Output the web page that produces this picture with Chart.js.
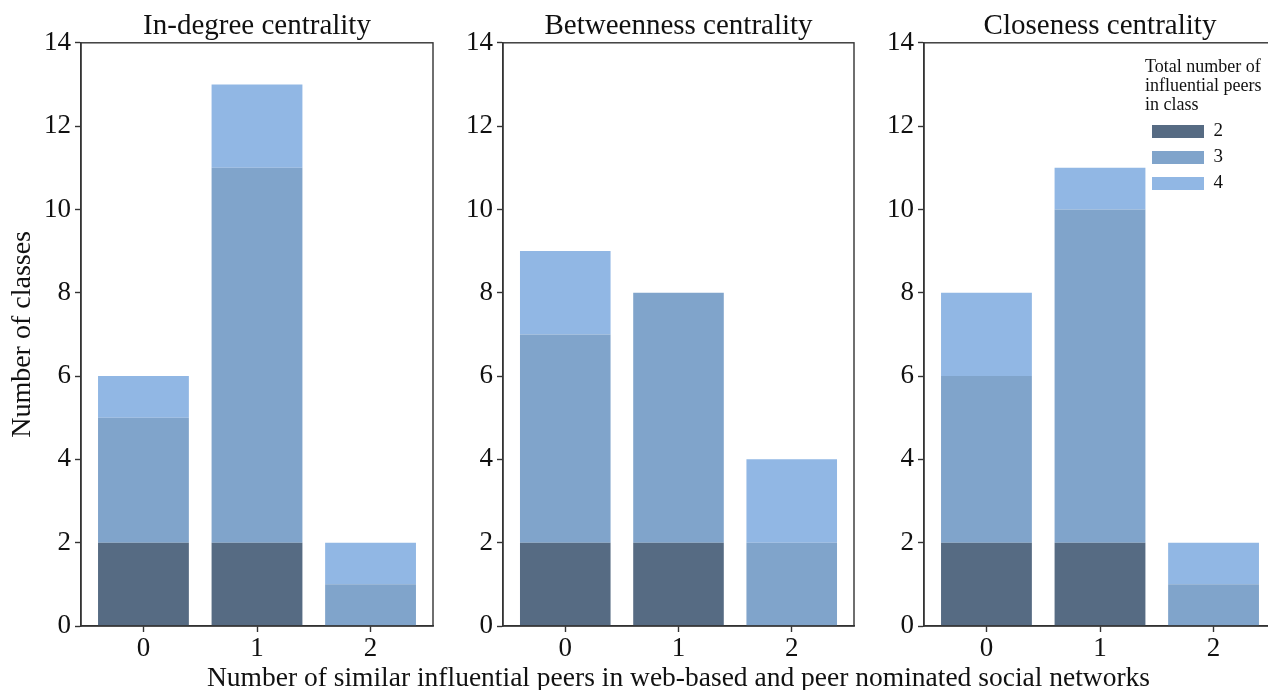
<!DOCTYPE html>
<html><head><meta charset="utf-8">
<script src="https://cdn.jsdelivr.net/npm/chart.js@4.4.0/dist/chart.umd.min.js"></script>
<style>
html,body{margin:0;padding:0;background:#fff;overflow:hidden;width:1268px;height:690px;}
#wrap{position:relative;width:1300px;height:690px;}
canvas{position:absolute;left:0;top:0;}
</style></head><body>
<div id="wrap">
<canvas id="c1" width="1300" height="690"></canvas>
<canvas id="c2" width="1300" height="690"></canvas>
<canvas id="c3" width="1300" height="690"></canvas>
</div>
<script>
const categories = [0, 1, 2];
const seriesLabels = ['2', '3', '4'];
const panelTitles = ['In-degree centrality', 'Betweenness centrality', 'Closeness centrality'];
// stacked segments per panel (series "2", "3", "4")
const inDegree2 = [2, 2, 0];
const inDegree3 = [3, 9, 1];
const inDegree4 = [1, 2, 1];
const betweenness2 = [2, 2, 0];
const betweenness3 = [5, 6, 2];
const betweenness4 = [2, 0, 2];
const closeness2 = [2, 2, 0];
const closeness3 = [4, 8, 1];
const closeness4 = [2, 1, 1];
const yTicks = [0, 2, 4, 6, 8, 10, 12, 14];
const yLabel = 'Number of classes';
const xLabel = 'Number of similar influential peers in web-based and peer nominated social networks';
const legendTitle = ['Total number of', 'influential peers', 'in class'];

const colors = ['#566b83', '#80a4cb', '#91b7e4'];
const FONT = "'Liberation Serif', 'DejaVu Serif', serif";
const W = 1300;
const areas = [[81, 433], [503, 854], [924, 1276]];

const boxPlugin = {
  id: 'box',
  afterDraw(chart) {
    const a = chart.chartArea, ctx = chart.ctx;
    ctx.save();
    ctx.strokeStyle = '#333';
    ctx.lineWidth = 1.4;
    ctx.strokeRect(a.left, a.top, a.right - a.left, a.bottom - a.top);
    ctx.restore();
  }
};

const xLabelPlugin = {
  id: 'xlabel',
  afterDraw(chart, args, opts) {
    if (!opts || !opts.text) return;
    const a = chart.chartArea, ctx = chart.ctx;
    ctx.save();
    ctx.fillStyle = '#111';
    ctx.font = opts.size + 'px ' + FONT;
    ctx.textAlign = 'center';
    ctx.textBaseline = 'middle';
    ctx.fillText(opts.text, (a.left + a.right) / 2, opts.y);
    ctx.restore();
  }
};

const legendPosPlugin = {
  id: 'legendPos',
  afterLayout(chart, args, opts) {
    const lg = chart.legend;
    if (!lg || !opts || opts.left === undefined) return;
    const h = lg.height;
    lg.width = opts.width;
    lg.left = opts.left; lg.top = opts.top;
    lg.right = lg.left + opts.width; lg.bottom = lg.top + h;
  }
};

function makePanel(id, idx, d2, d3, d4) {
  const [l, r] = areas[idx];
  const yW = 75;
  const mk = (lab, data, c) => ({
    label: lab,
    data: categories.map((x, i) => ({x: x, y: data[i]})),
    backgroundColor: c,
    borderWidth: 0,
    categoryPercentage: 1,
    barPercentage: 0.8
  });
  const isLast = idx === 2;
  return new Chart(document.getElementById(id), {
    type: 'bar',
    data: {
      datasets: [mk(seriesLabels[0], d2, colors[0]), mk(seriesLabels[1], d3, colors[1]), mk(seriesLabels[2], d4, colors[2])]
    },
    options: {
      responsive: false,
      animation: false,
      layout: { padding: { left: l - yW, right: W - r, top: 0, bottom: 0 } },
      plugins: {
        title: {
          display: true, text: panelTitles[idx], color: '#111', fullSize: false,
          font: { family: FONT, size: 29, weight: 'normal', lineHeight: 1.2 },
          padding: { top: 9, bottom: -1 }
        },
        legend: {
          display: isLast,
          position: 'chartArea',
          align: 'start',
          title: {
            display: true, text: legendTitle, color: '#111', position: 'start',
            font: { family: FONT, size: 18, lineHeight: 1.05 }, padding: { top: 0, bottom: 38 }
          },
          labels: {
            color: '#111', font: { family: FONT, size: 19 },
            boxWidth: 52, boxHeight: 13, padding: 7
          }
        },
        legendPos: isLast ? { left: 1145, top: 58, width: 125 } : {},
        xlabel: idx === 1 ? { text: xLabel, size: 27.5, y: 679 } : {},
        tooltip: { enabled: false }
      },
      scales: {
        x: {
          type: 'linear', stacked: true, min: -0.55, max: 2.55, offset: false,
          afterFit(s) { s.height = 64; },
          afterBuildTicks(s) { s.ticks = categories.map(v => ({ value: v })); },
          grid: { drawOnChartArea: false, offset: false, tickLength: 6, tickColor: '#333', tickWidth: 1.4 },
          border: { display: true, color: '#333', width: 1.4 },
          ticks: { color: '#111', font: { family: FONT, size: 27 }, padding: 1, callback: v => String(v) }
        },
        y: {
          stacked: true, min: 0, max: 14,
          afterFit(s) { s.width = yW; },
          afterBuildTicks(s) { s.ticks = yTicks.map(v => ({ value: v })); },
          grid: { drawOnChartArea: false, tickLength: 6, tickColor: '#333', tickWidth: 1.4 },
          border: { display: true, color: '#333', width: 1.4 },
          ticks: { color: '#111', font: { family: FONT, size: 27 }, padding: 4 },
          title: {
            display: idx === 0, text: yLabel, color: '#111',
            font: { family: FONT, size: 28 }, padding: { top: 0, bottom: 0 }
          }
        }
      }
    },
    plugins: [boxPlugin, xLabelPlugin, legendPosPlugin]
  });
}

makePanel('c1', 0, inDegree2, inDegree3, inDegree4);
makePanel('c2', 1, betweenness2, betweenness3, betweenness4);
makePanel('c3', 2, closeness2, closeness3, closeness4);
</script>
</body></html>
